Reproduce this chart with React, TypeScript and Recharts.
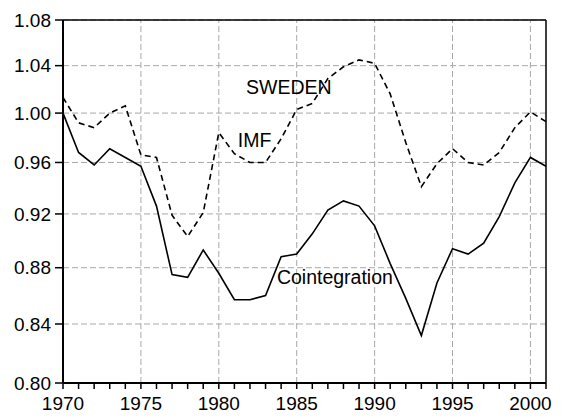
import {
  LineChart,
  Line,
  XAxis,
  YAxis,
  CartesianGrid,
  ReferenceLine,
  ReferenceDot,
} from "recharts";

const years = [
  1970, 1971, 1972, 1973, 1974, 1975, 1976, 1977, 1978, 1979,
  1980, 1981, 1982, 1983, 1984, 1985, 1986, 1987, 1988, 1989,
  1990, 1991, 1992, 1993, 1994, 1995, 1996, 1997, 1998, 1999,
  2000, 2001,
];

const imf = [
  1.013, 0.992, 0.988, 1.0, 1.006, 0.966, 0.964, 0.919, 0.903, 0.921,
  0.984, 0.967, 0.96, 0.96, 0.979, 1.003, 1.008, 1.029, 1.039, 1.045,
  1.042, 1.016, 0.976, 0.941, 0.959, 0.971, 0.96, 0.958, 0.968, 0.988,
  1.001, 0.993,
];

const cointegration = [
  1.0, 0.968, 0.958, 0.971, 0.964, 0.957, 0.926, 0.875, 0.873, 0.893,
  0.876, 0.857, 0.857, 0.86, 0.888, 0.89, 0.905, 0.923, 0.93, 0.926,
  0.911, 0.883, 0.858, 0.832, 0.869, 0.894, 0.89, 0.898, 0.918, 0.944,
  0.964, 0.957,
];

const yTicks = [0.8, 0.84, 0.88, 0.92, 0.96, 1.0, 1.04, 1.08];
const xGrid = [1975, 1980, 1985, 1990, 1995, 2000];

const font = "'Liberation Sans', Arial, sans-serif";

export default function App() {
  const data = years.map((year, i) => ({
    year,
    imf: imf[i],
    coint: cointegration[i],
  }));

  return (
    <div style={{ position: "absolute", left: 0, top: 0, background: "#fff" }}>
      <LineChart
        width={563}
        height={418}
        data={data}
        margin={{ top: 20, right: 17, bottom: 5, left: 5 }}
      >
        <CartesianGrid
          vertical={false}
          stroke="#a8a8a8"
          strokeDasharray="6 3"
        />
        {xGrid.map((x) => (
          <ReferenceLine
            key={x}
            x={x}
            stroke="#a8a8a8"
            strokeDasharray="6 3"
          />
        ))}
        <XAxis
          dataKey="year"
          type="number"
          domain={[1970, 2001]}
          ticks={years}
          interval={0}
          height={30}
          tickFormatter={(v) => (v % 5 === 0 ? String(v) : "")}
          tick={{ fill: "#000", fontSize: 19, fontFamily: font }}
          tickSize={6}
          tickMargin={8}
          axisLine={{ stroke: "#000", strokeWidth: 2 }}
          tickLine={{ stroke: "#000", strokeWidth: 1.5 }}
        />
        <YAxis
          type="number"
          scale="log"
          domain={[0.8, 1.08]}
          ticks={yTicks}
          interval={0}
          allowDataOverflow
          width={58}
          tickFormatter={(v) => v.toFixed(2)}
          tick={{ fill: "#000", fontSize: 19, fontFamily: font }}
          tickSize={8}
          tickMargin={4}
          axisLine={{ stroke: "#000", strokeWidth: 2 }}
          tickLine={{ stroke: "#000", strokeWidth: 1.5 }}
        />
        <ReferenceLine y={1.08} stroke="#000" strokeWidth={1.5} />
        <ReferenceLine x={2001} stroke="#000" strokeWidth={1.5} />
        <Line
          type="linear"
          dataKey="imf"
          stroke="#000"
          strokeWidth={1.6}
          strokeDasharray="6 4"
          dot={false}
          isAnimationActive={false}
        />
        <Line
          type="linear"
          dataKey="coint"
          stroke="#000"
          strokeWidth={1.6}
          dot={false}
          isAnimationActive={false}
        />
        <ReferenceDot
          x={1984.5}
          y={1.0216}
          r={0}
          label={{ value: "SWEDEN", position: "center", fill: "#000", fontSize: 19.5, fontFamily: font }}
        />
        <ReferenceDot
          x={1982.3}
          y={0.978}
          r={0}
          label={{ value: "IMF", position: "center", fill: "#000", fontSize: 19.5, fontFamily: font }}
        />
        <ReferenceDot
          x={1987.45}
          y={0.8735}
          r={0}
          label={{ value: "Cointegration", position: "center", fill: "#000", fontSize: 19.5, fontFamily: font }}
        />
      </LineChart>
    </div>
  );
}
